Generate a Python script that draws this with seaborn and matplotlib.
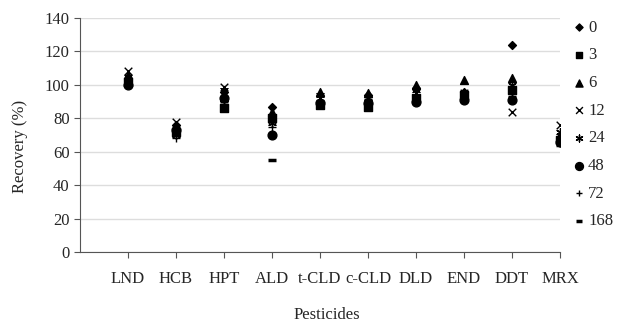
import pandas as pd
import seaborn as sns
import matplotlib.pyplot as plt

# recovery (%) of pesticides by storage time
pesticides = ['LND', 'HCB', 'HPT', 'ALD', 't-CLD', 'c-CLD', 'DLD', 'END', 'DDT', 'MRX']
times = ['0', '3', '6', '12', '24', '48', '72', '168']

rec_0 = [104, 76, 96, 87, 90, 94, 98, 96, 124, 68]
rec_3 = [102, 72, 86, 80, 88, 87, 92, 94, 97, 67]
rec_6 = [106, 74, 93, 84, 96, 95, 100, 103, 104, 70]
rec_12 = [108, 78, 99, 79, 92, 90, 95, 95, 84, 76]
rec_24 = [105, 70, 97, 77, 94, 92, 97, 93, 100, 72]
rec_48 = [100, 73, 92, 70, 89, 89, 90, 91, 91, 66]
rec_72 = [103, 68, 90, 75, 91, 91, 93, 92, 95, 65]
rec_168 = [101, 71, 88, 55, 88, 88, 91, 95, 93, 64]

series = [rec_0, rec_3, rec_6, rec_12, rec_24, rec_48, rec_72, rec_168]
marker_list = ['D', 's', '^', 'x', (6, 2, 0), 'o', '+', '_']
size_list = [16, 30, 32, 30, 30, 40, 30, 30]

sns.set_style('white')
plt.rcParams['font.family'] = ['Liberation Serif', 'DejaVu Serif']

fig = plt.figure(figsize=(6.21, 3.23), dpi=100)
ax = fig.add_axes([80 / 621, 1 - 252 / 323, 480 / 621, 234 / 323])

for t, vals, m, s in zip(times, series, marker_list, size_list):
    df = pd.DataFrame({'pesticide': pesticides, 'recovery': vals})
    lw = 2.5 if m == '_' else 1.0
    sns.scatterplot(data=df, x='pesticide', y='recovery', marker=m, s=s,
                    color='black', edgecolor='black', linewidth=lw,
                    label=t, ax=ax, zorder=3)

ax.set_xlim(-1, 9)
ax.set_ylim(0, 140)
ax.set_yticks(range(0, 141, 20))
ax.grid(axis='y', color='#dddddd', linewidth=1)
ax.set_axisbelow(True)
for side in ['top', 'right']:
    ax.spines[side].set_visible(False)
for side in ['left', 'bottom']:
    ax.spines[side].set_color('#555555')
ax.tick_params(axis='both', direction='out', length=4, color='#555555',
               labelsize=12, left=True, bottom=True)
ax.tick_params(axis='x', pad=10)
ax.set_xlabel('Pesticides', fontsize=12, va='center')
ax.set_ylabel('Recovery (%)', fontsize=12, va='center')
ax.xaxis.set_label_coords(0.515, -0.27)
ax.yaxis.set_label_coords(-0.125, 0.45)

ax.legend(loc='upper left', bbox_to_anchor=(568 / 621, 1 - 13 / 323),
          bbox_transform=fig.transFigure, frameon=False, fontsize=12,
          handlelength=0.5, handletextpad=0.3, labelspacing=0.7,
          borderaxespad=0, markerscale=0.9)

fig.savefig('out.png', dpi=100)
